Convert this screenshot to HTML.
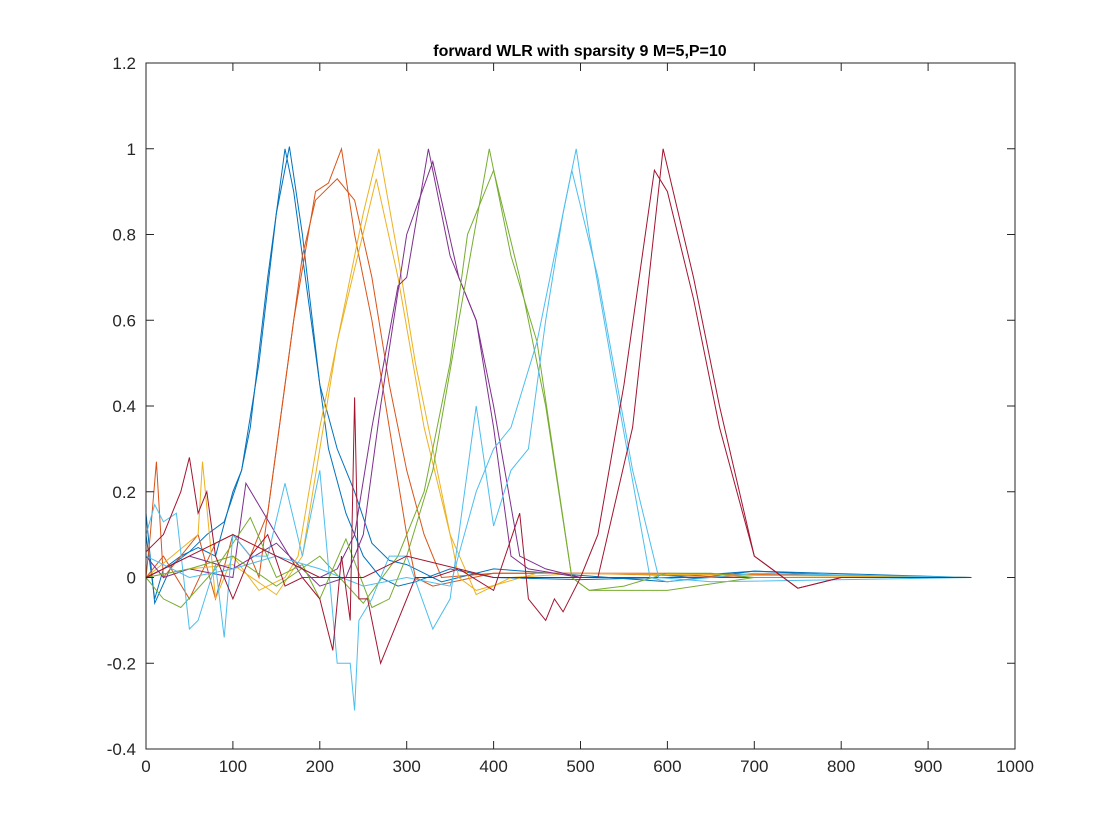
<!DOCTYPE html>
<html><head><meta charset="utf-8"><style>
html,body{margin:0;padding:0;background:#fff;}
svg{display:block;font-family:"Liberation Sans",Arial,sans-serif;}
</style></head><body>
<svg id="chart" width="1120" height="840" xmlns="http://www.w3.org/2000/svg">
<rect x="0" y="0" width="1120" height="840" fill="#fff"/>
<text x="580" y="56" text-anchor="middle" font-weight="bold" font-size="16" fill="#000">forward WLR with sparsity 9 M=5,P=10</text>
<g id="lines"></g>
<g id="axes"></g>
</svg>
<script>
const xTicks=[0,100,200,300,400,500,600,700,800,900,1000];
const yTicks=[-0.4,-0.2,0,0.2,0.4,0.6,0.8,1,1.2];
const yTickLabels=["-0.4","-0.2","0","0.2","0.4","0.6","0.8","1","1.2"];
const colors=["#0072BD","#D95319","#EDB120","#7E2F8E","#77AC30","#4DBEEE","#A2142F"];
const seriesNames=["blue-a","blue-b","orange-a","orange-b","yellow-a","yellow-b","purple-a","purple-b","green-a","green-b","cyan-a","cyan-b","darkred-a","darkred-b"];
const blueAx=[0,10,20,40,60,80,100,110,120,140,160,170,190,210,230,250,270,290,310,350,400,500,600,700,800,900,950];
const blueAy=[0.1,-0.05,0.02,0.05,0.07,0.05,0.2,0.25,0.35,0.7,1.0,0.9,0.6,0.3,0.15,0.05,0,-0.02,-0.01,0.02,0,-0.005,0,0.015,0.005,0,0];
const blueBx=[0,10,30,50,70,90,110,130,150,165,180,200,220,240,260,280,300,340,400,600,700,950];
const blueBy=[0.15,-0.06,0.03,0.06,0.1,0.13,0.25,0.5,0.85,1.005,0.8,0.45,0.3,0.2,0.08,0.04,0.03,-0.01,0.02,-0.01,0.015,0];
const orangeAx=[0,5,12,20,40,60,80,100,120,130,150,170,195,210,225,240,260,280,300,310,330,400,500,700,950];
const orangeAy=[0,0.1,0.27,0,0.05,0.1,-0.05,0.1,0.05,0,0.3,0.6,0.9,0.92,1.0,0.8,0.6,0.35,0.1,0,-0.02,0.01,0.01,0,0];
const orangeBx=[0,20,50,80,100,120,140,160,180,195,220,240,260,280,300,320,340,400,600,950];
const orangeBy=[0,0.05,-0.05,0.08,0.1,0.05,0.15,0.45,0.75,0.88,0.93,0.88,0.7,0.45,0.25,0.1,0,0.01,0.01,0];
const yellowAx=[0,30,60,65,80,100,130,160,175,200,230,250,268,290,310,340,360,380,450,950];
const yellowAy=[0,0.05,0.1,0.27,-0.05,0.05,-0.03,0,0.05,0.35,0.65,0.85,1.0,0.75,0.5,0.2,0,-0.03,0.01,0];
const yellowBx=[0,50,100,150,180,200,220,240,265,290,320,350,380,420,500,950];
const yellowBy=[0,0.02,0.03,-0.04,0.05,0.3,0.55,0.72,0.93,0.7,0.35,0.1,-0.04,0,0.01,0];
const purpleAx=[0,20,50,100,115,150,180,200,220,240,260,290,300,325,350,380,400,420,440,500,950];
const purpleAy=[0.05,0,0.02,0,0.22,0.1,0,0,0.02,0.1,0.35,0.68,0.7,1.0,0.75,0.6,0.35,0.05,0.02,0,0];
const purpleBx=[0,50,100,150,200,230,250,270,300,330,360,380,400,430,460,500,950];
const purpleBy=[0,0.05,0.02,0.08,-0.02,0,0.1,0.4,0.8,0.97,0.7,0.6,0.4,0.05,0.02,0,0];
const greenAx=[0,20,40,80,120,150,180,200,230,260,280,300,330,360,395,420,450,490,510,600,700,950];
const greenAy=[0,-0.05,-0.07,0.02,0.14,0,0.03,-0.05,0.09,-0.07,-0.05,0.05,0.25,0.6,1.0,0.75,0.55,0.0,-0.03,-0.03,0,0];
const greenBx=[0,50,100,150,200,250,290,320,350,370,400,430,460,490,510,550,600,650,700,950];
const greenBy=[0,0.02,0.05,-0.02,0.05,-0.06,0.05,0.2,0.5,0.8,0.95,0.7,0.4,0,-0.03,-0.02,0.01,0.01,0,0];
const cyanAx=[0,10,20,35,50,60,80,90,100,120,140,160,180,200,220,235,240,245,260,280,300,330,350,380,400,420,440,460,480,495,510,540,580,600,700,950];
const cyanAy=[0.1,0.17,0.13,0.15,-0.12,-0.1,0.03,-0.14,0.1,0.05,0.05,0.22,0.05,0.25,-0.2,-0.2,-0.31,-0.1,-0.05,0.05,0.05,-0.12,-0.05,0.4,0.12,0.25,0.3,0.6,0.85,1.0,0.8,0.45,0,-0.01,0.01,0];
const cyanBx=[0,50,100,150,200,250,300,350,380,400,420,450,470,490,520,560,590,650,950];
const cyanBy=[0.05,0,0.02,0.05,0.02,-0.02,0,-0.02,0.2,0.3,0.35,0.55,0.75,0.95,0.7,0.25,0,-0.01,0];
const darkredAx=[0,20,40,50,60,70,80,100,120,140,160,180,200,215,225,235,240,245,255,270,290,310,330,360,400,430,440,460,470,480,500,520,560,595,630,660,700,750,800,950];
const darkredAy=[0.06,0.1,0.2,0.28,0.15,0.2,0.05,-0.05,0.05,0.1,-0.02,0,-0.05,-0.17,0.05,-0.1,0.42,-0.05,-0.05,-0.2,-0.1,0,0,0.02,-0.03,0.15,-0.05,-0.1,-0.05,-0.08,0,0,0.35,1.0,0.7,0.4,0.05,-0.025,0,0];
const darkredBx=[0,50,100,150,200,250,300,400,500,520,550,585,600,630,660,700,750,800,950];
const darkredBy=[0,0.05,0.1,0.05,0,0,0.05,0,0,0.1,0.45,0.95,0.9,0.65,0.35,0.05,-0.025,0,0];

const X0=146,X1=1015,Y0=749,Y1=63;
const xs=v=>X0+(v-0)/(1000-0)*(X1-X0);
const ys=v=>Y0-(v+0.4)/(1.6)*(Y0-Y1);
const NS="http://www.w3.org/2000/svg";
const lines=document.getElementById('lines');
const axes=document.getElementById('axes');
const all=[[blueAx,blueAy],[blueBx,blueBy],[orangeAx,orangeAy],[orangeBx,orangeBy],[yellowAx,yellowAy],[yellowBx,yellowBy],[purpleAx,purpleAy],[purpleBx,purpleBy],[greenAx,greenAy],[greenBx,greenBy],[cyanAx,cyanAy],[cyanBx,cyanBy],[darkredAx,darkredAy],[darkredBx,darkredBy]];
all.forEach((s,i)=>{
  const p=document.createElementNS(NS,'polyline');
  p.setAttribute('points',s[0].map((x,j)=>xs(x).toFixed(1)+','+ys(s[1][j]).toFixed(1)).join(' '));
  p.setAttribute('fill','none');
  p.setAttribute('stroke',colors[Math.floor(i/2)]);
  p.setAttribute('stroke-width','1');
  
  
  lines.appendChild(p);
});
const fr=document.createElementNS(NS,'rect');
fr.setAttribute('x',X0);fr.setAttribute('y',Y1);fr.setAttribute('width',X1-X0);fr.setAttribute('height',Y0-Y1);
fr.setAttribute('fill','none');fr.setAttribute('stroke','#262626');fr.setAttribute('stroke-width','1');


axes.appendChild(fr);
xTicks.forEach(v=>{
  const x=xs(v);
  const t=document.createElementNS(NS,'path');
  t.setAttribute('d',`M${x},${Y0}v-8M${x},${Y1}v8`);t.setAttribute('stroke','#262626');
  
  
  axes.appendChild(t);
  const l=document.createElementNS(NS,'text');
  l.setAttribute('x',x);l.setAttribute('y',Y0+23);l.setAttribute('text-anchor','middle');l.setAttribute('font-size','17');l.setAttribute('fill','#262626');
  l.textContent=v;
  
  
  axes.appendChild(l);
});
yTicks.forEach((v,i)=>{
  const y=ys(v);
  const t=document.createElementNS(NS,'path');
  t.setAttribute('d',`M${X0},${y}h8M${X1},${y}h-8`);t.setAttribute('stroke','#262626');
  
  
  axes.appendChild(t);
  const l=document.createElementNS(NS,'text');
  l.setAttribute('x',X0-10);l.setAttribute('y',y+6);l.setAttribute('text-anchor','end');l.setAttribute('font-size','17');l.setAttribute('fill','#262626');
  l.textContent=yTickLabels[i];
  
  
  axes.appendChild(l);
});
</script>
</body></html>
